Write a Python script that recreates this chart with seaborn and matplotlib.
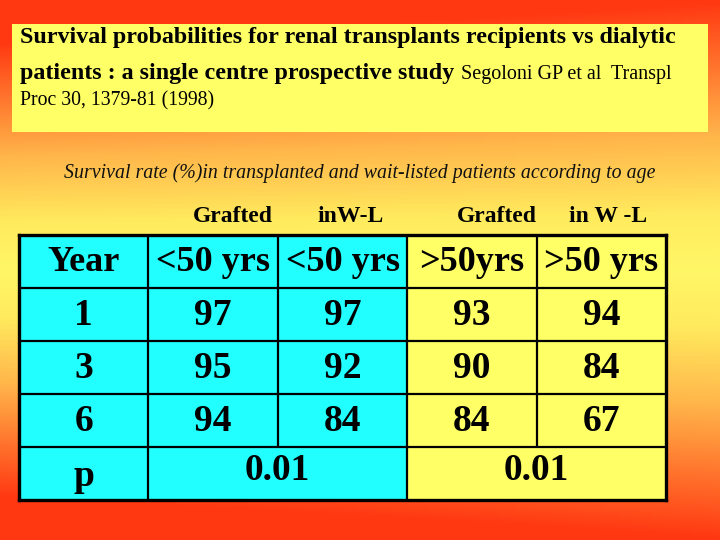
import numpy as np
import pandas as pd
import matplotlib
import matplotlib.pyplot as plt
import matplotlib.patches as mpatches
from matplotlib.colors import ListedColormap, LinearSegmentedColormap
import seaborn as sns

matplotlib.use("Agg")

# ── Data ──────────────────────────────────────────────────────────────────────
status_labels = ["Grafted", "inW-L", "Grafted", "in W -L"]
age_labels = ["<50 yrs", "<50 yrs", ">50yrs", ">50 yrs"]
years = ["1", "3", "6"]
grafted_lt50 = [97, 95, 94]
waitlist_lt50 = [97, 92, 84]
grafted_gt50 = [93, 90, 84]
waitlist_gt50 = [94, 84, 67]
p_values = ["0.01", "0.01"]

# colour group per table column: 0 = under 50 (cyan), 1 = over 50 (yellow)
col_group = [0, 0, 0, 1, 1]

CYAN = "#22FFFF"
YELLOW = "#FFFF66"
SERIF = "Liberation Serif"

fig = plt.figure(figsize=(7.2, 5.4), dpi=100)

# ── Background gradient (red → yellow → red) ─────────────────────────────────
bg = fig.add_axes([0, 0, 1, 1], zorder=0)
yy, xx = np.mgrid[0:1:270j, 0:1:360j]
t = np.abs(yy - 0.5) / 0.5 * (1.0 + 0.18 * (1 - xx))
t = np.clip(t, 0, 1)
grad_cmap = LinearSegmentedColormap.from_list(
    "slide", [(0.0, "#FFF666"), (0.2, "#FFEC5E"), (0.5, "#FFB54A"), (1.0, "#FF3812")]
)
bg.imshow(t, cmap=grad_cmap, vmin=0, vmax=1, aspect="auto", extent=[0, 1, 0, 1])
bg.axis("off")

# ── Title box ─────────────────────────────────────────────────────────────────
W, H = 720, 540
fig.patches.append(mpatches.Rectangle(
    (12 / W, 1 - 132 / H), 696 / W, 108 / H,
    transform=fig.transFigure, facecolor=YELLOW, edgecolor="none", zorder=1,
))

fig.text(20 / W, 1 - 37 / H,
         "Survival probabilities for renal transplants recipients vs dialytic",
         family=SERIF, weight="bold", fontsize=17.3, va="center", zorder=2)
t2 = fig.text(20 / W, 1 - 73 / H, "patients : a single centre prospective study",
              family=SERIF, weight="bold", fontsize=17.3, va="center", zorder=2)
renderer = fig.canvas.get_renderer()
bb = t2.get_window_extent(renderer)
fig.text(bb.x1 / W + 7 / W, 1 - 74 / H, "Segoloni GP et al  Transpl",
         family=SERIF, fontsize=14.5, va="center", zorder=2)
fig.text(20 / W, 1 - 101 / H, "Proc 30, 1379-81 (1998)",
         family=SERIF, fontsize=14.2, va="center", zorder=2)

fig.text(0.5, 1 - 173 / H,
         "Survival rate (%)in transplanted and wait-listed patients according to age",
         family=SERIF, style="italic", fontsize=14.3, ha="center", va="center",
         color="#111111", zorder=2)

# ── Table drawn as a seaborn heatmap ─────────────────────────────────────────
ax = fig.add_axes([19 / W, 1 - 500 / H, 647 / W, 265 / H], zorder=3)
n_rows = len(years) + 2
grid = pd.DataFrame([col_group] * n_rows)
sns.heatmap(grid, ax=ax, cmap=ListedColormap([CYAN, YELLOW]), vmin=0, vmax=1,
            cbar=False, linewidths=0, xticklabels=False, yticklabels=False)

for s in ax.spines.values():
    s.set_visible(True)
    s.set_linewidth(2.4)
    s.set_color("black")

# inner grid lines (p row has merged cells)
for r in range(1, n_rows):
    ax.axhline(r, color="black", lw=1.6)
ax.vlines([1, 2, 3, 4], 0, n_rows - 1, color="black", lw=1.6)
ax.vlines([1, 3], n_rows - 1, n_rows, color="black", lw=1.6)

cell_kw = dict(family=SERIF, weight="bold", ha="center", va="center")
ax.text(0.5, 0.52, "Year", fontsize=26, **cell_kw)
for j, lab in enumerate(age_labels):
    ax.text(j + 1.5, 0.52, lab, fontsize=26, **cell_kw)

columns = [grafted_lt50, waitlist_lt50, grafted_gt50, waitlist_gt50]
for i, yr in enumerate(years):
    ax.text(0.5, i + 1.52, yr, fontsize=27, **cell_kw)
    for j, col in enumerate(columns):
        ax.text(j + 1.5, i + 1.52, str(col[i]), fontsize=27, **cell_kw)

ax.text(0.5, n_rows - 0.45, "p", fontsize=27, **cell_kw)
ax.text(2.0, n_rows - 0.55, p_values[0], fontsize=27, **cell_kw)
ax.text(4.0, n_rows - 0.55, p_values[1], fontsize=27, **cell_kw)

# column headers above the table
header_x = [1.65, 2.56, 3.69, 4.55]
for x, lab in zip(header_x, status_labels):
    ax.text(x, -0.34, lab, family=SERIF, weight="bold", fontsize=17,
            ha="center", va="center", clip_on=False)

fig.savefig("out.png", dpi=100)
